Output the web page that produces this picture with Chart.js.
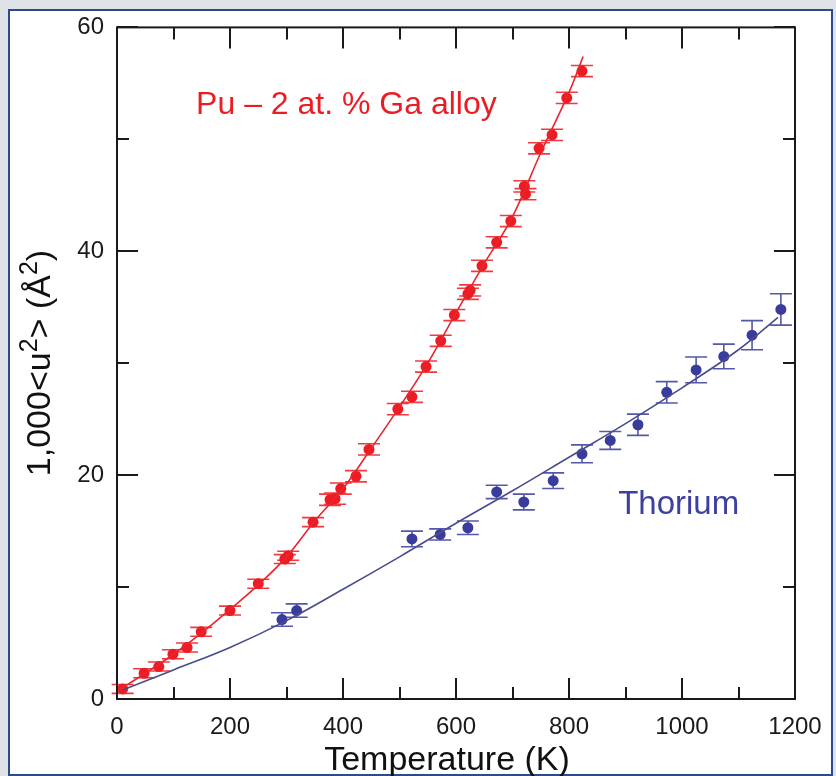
<!DOCTYPE html>
<html>
<head>
<meta charset="utf-8">
<script src="https://cdn.jsdelivr.net/npm/chart.js@4.4.1/dist/chart.umd.min.js"></script>
<style>
  html, body { margin: 0; padding: 0; background: #dfe3e7; }
  canvas { display: block; }
</style>
</head>
<body>
<canvas id="grafico" width="836" height="776"></canvas>
<script>
// Pu - 2 at.% Ga: puntos medidos (T en K, 1000<u2> en A^2)
const puTemp = [10, 48, 74, 99, 124, 149, 200, 250, 297, 303, 347, 377, 386, 396, 423, 446,
    497, 522, 547, 573, 597, 621, 625, 646, 672, 697, 721, 723, 747, 770, 796, 823];
const puU2 = [0.9, 2.3, 2.9, 4.0, 4.6, 6.0, 7.9, 10.3, 12.5, 12.8, 15.8, 17.8, 17.9, 18.8, 19.9, 22.3,
    25.9, 27.0, 29.7, 32.0, 34.3, 36.2, 36.5, 38.7, 40.8, 42.7, 45.8, 45.1, 49.2, 50.4, 53.7, 56.1];
const puErr = [0.4, 0.4, 0.4, 0.4, 0.4, 0.4, 0.4, 0.4, 0.4, 0.4, 0.4, 0.5, 0.5, 0.5, 0.5, 0.5,
    0.5, 0.5, 0.5, 0.5, 0.5, 0.5, 0.5, 0.5, 0.5, 0.5, 0.5, 0.5, 0.5, 0.5, 0.5, 0.5];
// curva ajustada Pu
const puFitTemp = [0, 50, 100, 150, 200, 250, 300, 350, 400, 450, 500, 550, 600, 650, 700, 750, 800, 825];
const puFitU2 = [0.7, 2.3, 4.0, 5.9, 8.0, 10.2, 12.7, 15.9, 18.8, 22.4, 26.1, 30.0, 34.5, 38.9, 43.1, 48.8, 54.2, 57.4];

// Torio
const thTemp = [292, 318, 522, 572, 621, 672, 720, 772, 823, 873, 922, 973, 1025, 1074, 1124, 1175];
const thU2 = [7.1, 7.9, 14.3, 14.7, 15.3, 18.5, 17.6, 19.5, 21.9, 23.1, 24.5, 27.4, 29.4, 30.6, 32.5, 34.8];
const thErr = [0.6, 0.6, 0.7, 0.5, 0.6, 0.6, 0.7, 0.7, 0.8, 0.8, 0.95, 0.95, 1.15, 1.1, 1.3, 1.4];
const thFitTemp = [10, 100, 200, 300, 400, 500, 600, 700, 800, 900, 1000, 1100, 1170];
const thFitU2 = [0.8, 2.6, 4.6, 7.0, 9.8, 12.7, 15.7, 18.6, 21.6, 24.6, 27.8, 31.2, 34.1];

// marcas de los ejes
const xTicks = [0, 200, 400, 600, 800, 1000, 1200];
const xMinor = [100, 300, 500, 700, 900, 1100];
const yTicks = [0, 20, 40, 60];
const yMinor = [10, 30, 50];

const FUENTE = "'Liberation Sans', Arial, Helvetica, sans-serif";
const ROJO = '#ec1c24';
const AZUL = '#393c9c';

function puntos(xs, ys) {
    return xs.map(function (x, i) { return { x: x, y: ys[i] }; });
}

// Fondo gris con marco azul
const marcoPlugin = {
    id: 'marco',
    beforeDraw: function (chart) {
        const ctx = chart.ctx;
        ctx.save();
        ctx.fillStyle = '#dfe3e7';
        ctx.fillRect(0, 0, chart.width, chart.height);
        ctx.fillStyle = '#ffffff';
        ctx.fillRect(9, 10, 823, 765);
        ctx.strokeStyle = '#2f4a8c';
        ctx.lineWidth = 2;
        ctx.strokeRect(9, 10, 823, 765);
        ctx.restore();
    }
};

// Barras de error verticales con topes anchos
const erroresPlugin = {
    id: 'errores',
    beforeDatasetDraw: function (chart, args) {
        const ds = chart.data.datasets[args.index];
        if (!ds.errores) return;
        const ctx = chart.ctx;
        const y = chart.scales.y;
        const meta = chart.getDatasetMeta(args.index);
        ctx.save();
        ctx.strokeStyle = ds.colorError;
        ctx.lineWidth = 1.6;
        meta.data.forEach(function (p, i) {
            const v = ds.data[i].y;
            const e = ds.errores[i];
            const y1 = y.getPixelForValue(v + e);
            const y2 = y.getPixelForValue(v - e);
            ctx.beginPath();
            ctx.moveTo(p.x, y1); ctx.lineTo(p.x, y2);
            ctx.moveTo(p.x - 11, y1); ctx.lineTo(p.x + 11, y1);
            ctx.moveTo(p.x - 11, y2); ctx.lineTo(p.x + 11, y2);
            ctx.stroke();
        });
        ctx.restore();
    }
};

// Caja, marcas internas, textos y titulos de los ejes
const ejesPlugin = {
    id: 'ejes',
    afterDraw: function (chart) {
        const ctx = chart.ctx;
        const a = chart.chartArea;
        const sx = chart.scales.x;
        const sy = chart.scales.y;
        ctx.save();
        ctx.strokeStyle = '#1a1a1a';
        ctx.lineWidth = 2;
        ctx.beginPath();
        function marcaX(v, largo) {
            const px = Math.round(sx.getPixelForValue(v));
            ctx.moveTo(px, a.bottom); ctx.lineTo(px, a.bottom - largo);
            ctx.moveTo(px, a.top); ctx.lineTo(px, a.top + largo);
        }
        function marcaY(v, largo) {
            const py = Math.round(sy.getPixelForValue(v));
            ctx.moveTo(a.left, py); ctx.lineTo(a.left + largo, py);
            ctx.moveTo(a.right, py); ctx.lineTo(a.right - largo, py);
        }
        xTicks.forEach(function (v) { marcaX(v, 21); });
        xMinor.forEach(function (v) { marcaX(v, 12); });
        yTicks.forEach(function (v) { marcaY(v, 21); });
        yMinor.forEach(function (v) { marcaY(v, 12); });
        ctx.stroke();
        ctx.strokeRect(a.left, a.top, a.right - a.left, a.bottom - a.top);

        // etiquetas de las series
        ctx.textBaseline = 'alphabetic';
        ctx.textAlign = 'left';
        ctx.font = '32px ' + FUENTE;
        ctx.fillStyle = ROJO;
        ctx.fillText('Pu \u2013 2 at. % Ga alloy', sx.getPixelForValue(140), sy.getPixelForValue(52.3));
        ctx.font = '33px ' + FUENTE;
        ctx.fillStyle = '#3d40a0';
        ctx.fillText('Thorium', sx.getPixelForValue(887), sy.getPixelForValue(16.5));

        // titulo del eje x
        ctx.font = '34px ' + FUENTE;
        ctx.fillStyle = '#111';
        ctx.textAlign = 'center';
        ctx.fillText('Temperature (K)', 447, 770);
        ctx.textAlign = 'left';

        // titulo del eje y con superindices
        const partes = [['1,000<u', false], ['2', true], ['> (\u00c5', false], ['2', true], [')', false]];
        const fNormal = '34px ' + FUENTE;
        const fSup = '25px ' + FUENTE;
        let total = 0;
        partes.forEach(function (p) {
            ctx.font = p[1] ? fSup : fNormal;
            total += ctx.measureText(p[0]).width;
        });
        ctx.translate(50, 363);
        ctx.rotate(-Math.PI / 2);
        let x = -total / 2;
        partes.forEach(function (p) {
            ctx.font = p[1] ? fSup : fNormal;
            ctx.fillText(p[0], x, p[1] ? -13 : 0);
            x += ctx.measureText(p[0]).width;
        });
        ctx.restore();
    }
};

function etiqueta(valor) {
    return String(valor);
}

const ctx = document.getElementById('grafico').getContext('2d');
const grafico = new Chart(ctx, {
    type: 'scatter',
    data: {
        datasets: [
            {
                label: 'Pu ajuste',
                data: puntos(puFitTemp, puFitU2),
                showLine: true,
                borderColor: '#e8262e',
                borderWidth: 1.6,
                pointRadius: 0,
                tension: 0.4
            },
            {
                label: 'Th ajuste',
                data: puntos(thFitTemp, thFitU2),
                showLine: true,
                borderColor: '#4a4c90',
                borderWidth: 1.6,
                pointRadius: 0,
                tension: 0.4
            },
            {
                label: 'Pu - 2 at. % Ga',
                data: puntos(puTemp, puU2),
                errores: puErr,
                colorError: '#ef3a40',
                pointRadius: 5.5,
                pointBorderWidth: 0,
                pointBackgroundColor: ROJO
            },
            {
                label: 'Thorium',
                data: puntos(thTemp, thU2),
                errores: thErr,
                colorError: '#5558a8',
                pointRadius: 5.5,
                pointBorderWidth: 0,
                pointBackgroundColor: AZUL
            }
        ]
    },
    options: {
        responsive: false,
        animation: false,
        layout: { padding: { left: 0, right: 41, top: 22, bottom: 0 } },
        plugins: {
            legend: { display: false },
            tooltip: { enabled: false }
        },
        scales: {
            x: {
                type: 'linear',
                min: 0,
                max: 1200,
                afterBuildTicks: function (s) { s.ticks = xTicks.map(function (v) { return { value: v }; }); },
                afterFit: function (s) { s.height = 77; },
                grid: { display: false, drawTicks: false },
                border: { display: false },
                ticks: { padding: 14, color: '#1a1a1a', font: { family: FUENTE, size: 24 }, callback: etiqueta }
            },
            y: {
                type: 'linear',
                min: 0,
                max: 60,
                afterBuildTicks: function (s) { s.ticks = yTicks.map(function (v) { return { value: v }; }); },
                afterFit: function (s) { s.width = 117; },
                grid: { display: false, drawTicks: false },
                border: { display: false },
                ticks: { padding: 13, color: '#1a1a1a', font: { family: FUENTE, size: 24 }, callback: etiqueta }
            }
        }
    },
    plugins: [marcoPlugin, erroresPlugin, ejesPlugin]
});
</script>
</body>
</html>
